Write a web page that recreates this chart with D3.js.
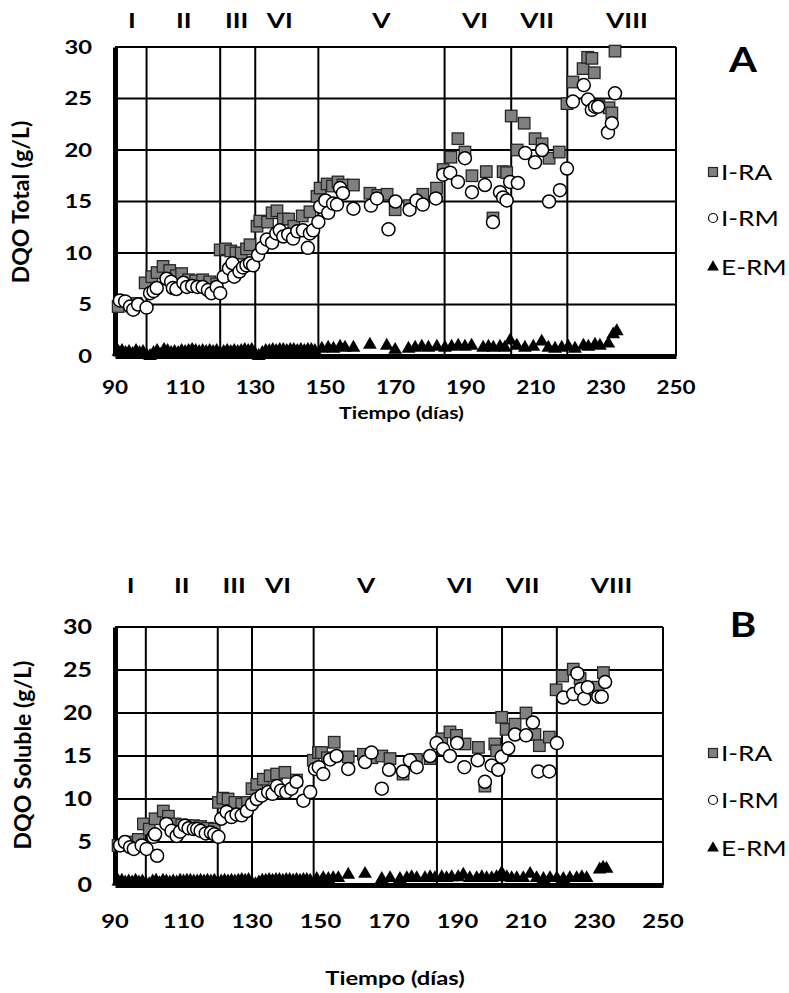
<!DOCTYPE html>
<html>
<head>
<meta charset="utf-8">
<script src="https://cdn.jsdelivr.net/npm/d3@7"></script>
<style>
  body { margin: 0; background: #fff; }
  svg { display: block; }
  text { font-family: Lato, "Open Sans", sans-serif; fill: #000; }
</style>
</head>
<body>
<script>
// tick labels / phases
const xTicks = [90, 110, 130, 150, 170, 190, 210, 230, 250]
const yTicks = [0, 5, 10, 15, 20, 25, 30]
const phaseBounds = [99, 120, 130, 148, 184, 203, 219]
const phaseNames = ['I', 'II', 'III', 'VI', 'V', 'VI', 'VII', 'VIII']
const phaseDaysA = [94.8, 109.6, 124.7, 137, 166, 192.7, 210.4, 236]
const phaseDaysB = [94.6, 109.5, 124.8, 137.6, 163.3, 190.7, 209, 235]
const seriesNames = ['I-RA', 'I-RM', 'E-RM']

// Panel A: DQO Total  [day, g/L]
const iraA = [[90.9,4.8],[96,5.1],[98.6,7.1],[100.5,7.7],[102,8.1],[103.7,8.7],[105.6,8.3],[107.5,7.8],[109,8.0],[111,7.4],[113,7.3],[115,7.4],[117,7.2],[119,7.0],
  [120,10.3],[121.5,10.4],[123,10.2],[124.5,10.0],[126,10.0],[127.5,10.4],[128.5,10.8],
  [130.5,12.6],[131.3,13.1],[133.5,13.0],[134.8,13.9],[136.2,14.1],[138,13.3],[139.5,13.3],[141,12.6],[143.4,13.6],[145.6,14.0],[147.6,15.5],[148.5,16.3],[150.5,16.7],[152,16.5],[153.6,16.9],[155,16.6],[158,16.6],
  [162.7,15.8],[165,15.6],[167.6,15.7],[169.9,14.2],[174,14.6],[177.8,15.7],[181.7,16.3],[183.6,18.1],[185.8,19.3],[187.8,21.1],[189.8,19.8],[191.8,17.5],[195.9,17.9],[197.8,13.4],[200.7,17.9],[201.7,17.8],
  [203,23.3],[204.7,20.0],[206.7,22.6],[209.8,21.1],[211.8,20.6],[213.8,19.2],[216.7,19.8],[218.9,24.5],[220.6,26.6],[223.5,27.9],[224.8,29.0],[226,28.9],[226.7,27.5],[228,24.3],[230.9,24.1],[231.7,23.6],[232.6,29.6]]

const irmA = [[91.4,5.4],[92.9,5.3],[94.3,4.8],[95.2,4.5],[96.6,5.0],[99,4.7],[100,6.1],[101,6.3],[101.9,6.6],[104.7,7.5],[106,7.2],[106.5,6.6],[107.5,6.5],[109.5,7.1],[110.5,6.7],[112,6.8],[113.5,6.7],[115,6.7],[116.5,6.4],[117.5,6.1],[119,6.7],[120,6.1],
  [121,7.7],[122.5,8.5],[123.5,9.0],[124,7.7],[125.5,8.2],[126.5,8.6],[127.5,8.8],[128.5,9.0],[129.4,8.8],
  [130.8,9.8],[132,10.5],[133.3,11.3],[134.8,11.0],[136,11.9],[137,12.2],[138,11.6],[139.4,11.8],[140.8,11.4],[142,12.1],[143.6,12.2],[145,10.5],[145.6,11.9],[146.5,12.2],[148,13.0],[148.5,14.5],[150,15.1],[150.8,13.9],[152.2,14.8],[153.3,14.7],[154.2,16.3],[155,15.8],[158,14.3],
  [163,14.6],[164.7,15.3],[168,12.3],[170,15.0],[174,14.2],[176,15.1],[177.8,14.7],[181.5,15.3],[183.6,17.6],[185.6,17.8],[187.8,16.9],[189.8,19.2],[191.8,15.9],[195.5,16.6],[197.8,13.0],[199.8,15.9],[200.7,15.4],[201.7,15.1],[202.7,16.9],[204.9,16.8],
  [207,19.7],[209.8,18.8],[211.8,20.0],[213.8,15.0],[216.9,16.1],[218.9,18.2],[220.6,24.7],[223.7,26.3],[224.9,24.9],[226,23.9],[226.9,24.2],[227.8,24.2],[230.6,21.7],[231.7,22.6],[232.6,25.5]]

const ermA = [[91,0.4],[92,0.5],[93,0.3],[94,0.4],[95,0.2],[96,0.5],[97,0.3],[98,0.4],[99,0.1],[100,0.0],[101,0.3],[102,0.5],[103,0.1],[104,0.6],[105,0.5],[106,0.3],[107,0.4],[108,0.3],[109,0.5],[110,0.4],
  [111,0.5],[112,0.6],[113,0.5],[114,0.4],[115,0.5],[116,0.4],[117,0.5],[118,0.4],[119,0.5],[120,0.3],[121,0.4],[122,0.5],[123,0.4],[124,0.5],[125,0.4],[126,0.5],[127,0.6],[128,0.5],[129,0.6],[130,0.2],
  [131,0.0],[132,0.3],[133,0.5],[134,0.5],[135,0.6],[136,0.5],[137,0.6],[138,0.6],[139,0.5],[140,0.6],[141,0.6],[142,0.5],[143,0.6],[144,0.5],[145,0.6],[146,0.6],[147,0.5],
  [149,0.7],[150.8,0.8],[152.3,0.7],[154.2,0.9],[155.6,0.8],[158,0.8],[162.7,1.1],[167.5,1.0],[169.9,0.6],[173.7,0.7],[175.6,0.8],[177.5,0.9],[179.4,0.8],[181.8,0.9],[184.1,0.8],[186,0.9],[187.9,1.0],[189.8,0.9],[191.7,1.0],
  [195,0.8],[196.5,0.9],[197.9,0.8],[199.8,0.9],[201.2,0.8],[202.7,1.5],[204.6,1.0],[206.9,0.8],[209.3,0.9],[211.7,1.4],[213.6,0.8],[215.5,0.7],[217.4,0.8],[219.3,0.9],[221.2,0.7],[223.6,1.0],[225,0.9],[226.9,1.1],[228.3,1.0],[230.7,1.2],[232.1,2.1],[233.1,2.4]]

// Panel B: DQO Soluble  [day, g/L]
const iraB = [[90.9,4.6],[94,5.0],[96.8,5.3],[98.3,7.1],[100,6.5],[101.7,7.7],[104.1,8.6],[105.6,8.0],[107.5,7.1],[109.5,7.0],[111,6.9],[113,6.9],[115,6.8],[117,6.6],[119,6.5],
  [120.2,9.6],[121.5,10.1],[123,10.0],[125,9.6],[127,9.4],[128.7,9.6],[130,11.2],[131.4,11.7],[133.3,12.3],[135.3,12.7],[137.2,12.9],[139.6,13.1],[143,12.2],[147.9,14.5],[149.4,15.4],[150.3,15.4],[152,14.8],[154,16.6],[158.1,14.9],
  [162.5,15.2],[165,14.8],[167.9,15.0],[170.3,14.7],[174.1,12.9],[178,14.6],[182,14.7],[185.4,17.0],[187.8,17.8],[189.7,17.4],[192.2,16.4],[196.1,16.0],[198,11.5],[200.9,16.4],[201.4,15.6],
  [202.9,19.5],[204.2,18.1],[206.8,18.7],[210,20.0],[212.6,17.5],[213.9,16.2],[216.8,17.2],[218.8,22.7],[220.7,24.3],[223.8,25.1],[225.8,24.0],[229,22.8],[231,23.0],[232.6,24.7]]

const irmB = [[91.5,4.6],[92.9,5.0],[94.4,4.4],[95.5,4.2],[97.8,4.6],[99.2,4.2],[101.2,5.6],[101.7,5.9],[102.3,3.4],[105,7.1],[106.5,6.3],[108,5.7],[109,6.2],[110.4,6.9],[111.5,6.6],[113,6.5],[114,6.5],[115,6.3],[116.5,6.0],[118,6.1],[119,5.9],[120.2,5.6],
  [121,7.7],[122.6,8.5],[124,7.9],[125.5,8.2],[127,8.1],[128.5,8.6],[130,9.4],[131.4,10.0],[132.8,10.4],[134.7,10.8],[136,10.6],[137.3,11.5],[138.5,11.0],[140,10.8],[141.5,11.2],[143,12.0],[145,9.8],[147,10.8],
  [148.4,13.5],[149.5,13.7],[150.8,12.9],[152.8,14.6],[154.7,15.0],[158.1,13.5],[163,14.3],[164.9,15.4],[167.9,11.2],[170,13.4],[174.1,13.2],[176.1,14.5],[178.1,13.7],[182,15.0],[183.9,16.5],[185.8,15.8],[187.8,15.0],[189.9,16.5],[192,13.7],
  [195.9,14.5],[198,12.0],[200,13.9],[201.9,13.4],[202.9,14.9],[204.8,15.9],[206.8,17.5],[210,17.4],[212,18.9],[213.6,13.2],[216.8,13.2],[219,16.5],[220.9,21.8],[223.8,22.2],[225,24.6],[226,22.8],[227,21.7],[228,23.0],[231.1,21.9],[232.1,21.9],[233.1,23.6]]

const ermB = [[91,0.4],[92,0.5],[93,0.3],[94,0.4],[95,0.3],[96,0.5],[97,0.3],[98,0.4],[99,0.2],[100,0.1],[101,0.4],[102,0.5],[103,0.2],[104,0.5],[105,0.4],[106,0.3],[107,0.4],[108,0.3],[109,0.5],[110,0.4],
  [111,0.5],[112,0.5],[113,0.4],[114,0.4],[115,0.5],[116,0.4],[117,0.5],[118,0.4],[119,0.5],[120,0.3],[121,0.4],[122,0.5],[123,0.4],[124,0.5],[125,0.4],[126,0.5],[127,0.6],[128,0.5],[129,0.6],[130,0.2],
  [131,0.1],[132,0.3],[133,0.5],[134,0.5],[135,0.6],[136,0.5],[137,0.6],[138,0.6],[139,0.5],[140,0.6],[141,0.6],[142,0.5],[143,0.6],[144,0.5],[145,0.6],[146,0.6],[147,0.5],
  [148.9,0.7],[150.8,0.8],[152.3,0.7],[153.7,0.8],[155.2,0.8],[158.1,1.2],[163,1.3],[167.9,0.7],[170.3,0.8],[173.2,0.7],[175.2,0.8],[176.6,0.9],[178.1,0.8],[180.5,0.8],[182,0.9],[183.4,0.8],[185.4,0.9],[186.8,0.8],[188.3,0.9],
  [190.2,0.9],[191.7,1.2],[193.6,0.8],[195.6,0.8],[197.1,0.9],[198.5,0.8],[200,0.8],[201.4,0.9],[202.9,1.4],[204.4,0.9],[205.8,0.8],[207.3,0.8],[209.2,0.8],[211.2,1.3],[213.1,0.8],[215.1,0.7],[217,0.8],[219,0.8],[220.9,0.7],[222.8,0.8],[224.8,0.8],[226.3,0.9],[227.7,0.8],[231.5,1.8],[232.5,2.0],[233.5,1.9]]

const W = 789, H = 993
const SX = 1.25   // the source picture is stretched sideways
const svg = d3.select('body').append('svg').attr('width', W).attr('height', H)

// text stretched horizontally around its anchor
function stext(parent, x, y, size, weight, anchor, txt, sx) {
  return parent.append('text')
    .attr('transform', `translate(${x},${y}) scale(${sx || SX},1)`)
    .attr('font-size', size).attr('font-weight', weight)
    .attr('text-anchor', anchor).text(txt)
}

function panel(p) {
  const x = d3.scaleLinear().domain([90, 250]).range([p.left, p.right])
  const y = d3.scaleLinear().domain([0, 30]).range([p.bottom, p.top])
  const g = svg.append('g')

  // horizontal grid
  g.append('g').selectAll('line').data(yTicks.slice(1)).enter().append('line')
    .attr('x1', p.left).attr('x2', p.right)
    .attr('y1', d => y(d)).attr('y2', d => y(d))
    .attr('stroke', '#000').attr('stroke-width', 2)
  // phase dividers
  g.append('g').selectAll('line').data(phaseBounds).enter().append('line')
    .attr('x1', d => x(d)).attr('x2', d => x(d))
    .attr('y1', p.top).attr('y2', p.bottom)
    .attr('stroke', '#000').attr('stroke-width', 2)
  // right border
  g.append('line').attr('x1', p.right).attr('x2', p.right).attr('y1', p.top).attr('y2', p.bottom)
    .attr('stroke', '#000').attr('stroke-width', 2)

  // axes (lines only; labels drawn stretched below)
  const ax = g.append('g').attr('transform', `translate(0,${p.bottom})`)
    .call(d3.axisBottom(x).tickValues(xTicks).tickSize(0).tickFormat(''))
  ax.select('.domain').attr('stroke-width', 5)
  const ay = g.append('g').attr('transform', `translate(${p.left},0)`)
    .call(d3.axisLeft(y).tickValues(yTicks).tickSize(0).tickFormat(''))
  ay.select('.domain').attr('stroke-width', 5)

  xTicks.forEach(t => stext(g, x(t), p.xTickY, p.xTickFont, 'bold', 'middle', t))
  yTicks.forEach(t => stext(g, 92, y(t) + p.yTickFont * 0.36, p.yTickFont, 'bold', 'end', t))

  // E-RM triangles
  const tri = d3.symbol().type(d3.symbolTriangle).size(82)
  g.append('g').selectAll('path').data(p.erm).enter().append('path')
    .attr('d', tri).attr('transform', d => `translate(${x(d[0])},${y(d[1])})`)
    .attr('fill', '#000')
  // I-RA squares
  g.append('g').selectAll('rect').data(p.ira).enter().append('rect')
    .attr('x', d => x(d[0]) - 5.75).attr('y', d => y(d[1]) - 5.75)
    .attr('width', 11.5).attr('height', 11.5)
    .attr('fill', '#808080').attr('stroke', '#262626').attr('stroke-width', 1.3)
  // I-RM circles
  g.append('g').selectAll('circle').data(p.irm).enter().append('circle')
    .attr('cx', d => x(d[0])).attr('cy', d => y(d[1])).attr('r', 6.5)
    .attr('fill', '#fff').attr('stroke', '#000').attr('stroke-width', 1.5)

  // phase labels
  p.phaseDays.forEach((d, i) => stext(g, x(d), p.phaseY, 21, 'bold', 'middle', phaseNames[i]))

  // titles
  stext(g, (p.left + p.right) / 2 + 6, p.xTitleY, p.xTitleFont, 'bold', 'middle', 'Tiempo (días)')
  g.append('text').attr('transform', `translate(${p.yTitleX},${p.yTitleY}) rotate(-90)`)
    .attr('text-anchor', 'middle').attr('font-size', 23).attr('font-weight', 'bold')
    .text(p.yTitle)
  stext(g, 743, p.letterY, 35, 'bold', 'middle', p.letter, 1.15)

  // legend
  const leg = g.append('g').selectAll('g').data(seriesNames).enter().append('g')
    .attr('transform', (d, i) => `translate(713,${p.legY[i]})`)
  leg.filter((d, i) => i === 0).append('rect').attr('x', -4.5).attr('y', -4.5).attr('width', 9).attr('height', 9)
    .attr('fill', '#808080').attr('stroke', '#262626').attr('stroke-width', 1.2)
  leg.filter((d, i) => i === 1).append('circle').attr('r', 4.5)
    .attr('fill', '#fff').attr('stroke', '#000').attr('stroke-width', 1.2)
  leg.filter((d, i) => i === 2).append('path').attr('d', d3.symbol().type(d3.symbolTriangle).size(60))
    .attr('fill', '#000')
  leg.each(function (d) { stext(d3.select(this), 8, 7.5, 21, 'normal', 'start', d) })
}

panel({
  left: 115, right: 676, top: 47, bottom: 356, xTickY: 394, xTickFont: 18, yTickFont: 19,
  ira: iraA, irm: irmA, erm: ermA, phaseDays: phaseDaysA, phaseY: 28,
  xTitleY: 419, xTitleFont: 17, yTitleX: 29, yTitleY: 202, yTitle: 'DQO Total (g/L)',
  letter: 'A', letterY: 72, legY: [172, 218, 267]
})
panel({
  left: 115, right: 663, top: 627, bottom: 885, xTickY: 928, xTickFont: 19, yTickFont: 20,
  ira: iraB, irm: irmB, erm: ermB, phaseDays: phaseDaysB, phaseY: 593,
  xTitleY: 985, xTitleFont: 19, yTitleX: 31, yTitleY: 755, yTitle: 'DQO Soluble (g/L)',
  letter: 'B', letterY: 637, legY: [753, 800, 848]
})
</script>
</body>
</html>
